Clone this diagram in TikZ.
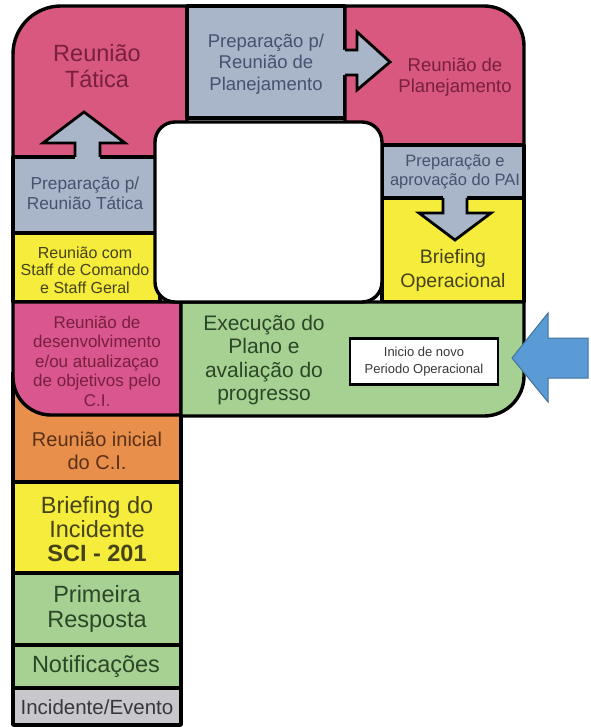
\documentclass[tikz,border=0pt]{standalone}
\usepackage{fontspec}
\setmainfont{Liberation Sans}
\definecolor{cpink}{HTML}{D8587F}
\definecolor{cpinkb}{HTML}{D9568E}
\definecolor{cgray}{HTML}{A9B5C9}
\definecolor{cyellow}{HTML}{F5EC3C}
\definecolor{cgreen}{HTML}{A6D192}
\definecolor{corange}{HTML}{E8904B}
\definecolor{clgray}{HTML}{C8C8CC}
\definecolor{cblue}{HTML}{5B9BD5}
\definecolor{cblueb}{HTML}{41719C}
\definecolor{tpink}{HTML}{78203E}
\definecolor{tgray}{HTML}{46526E}
\definecolor{tyellow}{HTML}{45431A}
\definecolor{tgreen}{HTML}{2C4628}
\definecolor{torange}{HTML}{5A3018}
\definecolor{tlgray}{HTML}{38383C}
\newcommand{\fsz}[2]{\fontsize{#1}{#2}\selectfont}
\begin{document}
\begin{tikzpicture}[x=1pt,y=-1pt,
  cell/.style={draw=black,line width=3.4pt,line join=round},
  lbl/.style={align=center,inner sep=0pt},
  arr/.style={draw=black,line width=2.8pt,line join=miter}]
\useasboundingbox (0,0) rectangle (590,727);
% ring cells
\path[cell,fill=cpink] (13,157) -- (13,54) arc[start angle=180,end angle=270,radius=48] -- (187,6) -- (187,157) -- cycle;
\path[cell,fill=cgray] (187,6) rectangle (345,118);
\path[cell,fill=cpink] (345,6) -- (484,6) arc[start angle=270,end angle=360,radius=40] -- (524,145) -- (345,145) -- cycle;
\path[cell,fill=cgray] (382,145) rectangle (524,198);
\path[cell,fill=cyellow] (382,198) rectangle (524,302);
\path[cell,fill=cgray] (13,157) rectangle (160,233);
\path[cell,fill=cyellow] (13,233) rectangle (160,302);
% left column
\fill[corange] (13,372) rectangle (181,482);
\draw[cell] (13,372) -- (13,482) -- (181,482) -- (181,415);
\path[cell,fill=cpinkb] (13,302) -- (181,302) -- (181,415) -- (51,415) arc[start angle=90,end angle=180,radius=38] -- cycle;
\path[cell,fill=cgreen] (181,302) -- (524,302) -- (524,376) arc[start angle=0,end angle=90,radius=40] -- (181,416) -- cycle;
\path[cell,fill=cyellow] (13,482) rectangle (181,573);
\path[cell,fill=cgreen] (13,573) rectangle (181,645);
\path[cell,fill=cgreen] (13,645) rectangle (181,688);
\path[cell,fill=clgray] (13,688) rectangle (181,725);
% gray arrows
\fill[cgray] (75,160) -- (75,143) -- (43,143) -- (84,112) -- (125,143) -- (100,143) -- (100,160) -- cycle;
\draw[arr] (75,157) -- (75,143) -- (43,143) -- (84,112) -- (125,143) -- (100,143) -- (100,157);
\fill[cgray] (342,50) -- (357,50) -- (357,32) -- (390,62) -- (357,90) -- (357,75) -- (342,75) -- cycle;
\draw[arr] (345,50) -- (357,50) -- (357,32) -- (390,62) -- (357,90) -- (357,75) -- (345,75);
\fill[cgray] (443,195) -- (443,213) -- (419,213) -- (455,240) -- (491,213) -- (467,213) -- (467,195) -- cycle;
\draw[arr] (443,198) -- (443,213) -- (419,213) -- (455,240) -- (491,213) -- (467,213) -- (467,198);
% hole
\draw[line width=3.4pt,fill=white,rounded corners=20pt] (155,122) rectangle (382,302);
% start box
\node[draw=black,line width=2.8pt,fill=white,minimum width=148pt,minimum height=46pt,inner sep=0pt] (box) at (424,361.5) {};
\node[lbl,text=tlgray,font=\fsz{13}{17}] (boxt) at (box.center) {Inicio de novo\\Periodo Operacional};
% blue arrow
\path[draw=cblueb,line width=1pt,fill=cblue] (512,358) -- (548,313) -- (548,338) -- (588,338) -- (588,378) -- (548,378) -- (548,402) -- cycle;
% labels
\node[lbl,text=tpink,font=\fsz{23.5}{26}] (rt) at (97,66) {Reunião\\Tática};
\node[lbl,text=tgray,font=\fsz{18.5}{21.5}] (gp) at (266,64) {Preparação p/\\Reunião de\\Planejamento};
\node[lbl,text=tpink,font=\fsz{18.5}{21}] (rp) at (455,77) {Reunião de\\Planejamento};
\node[lbl,text=tgray,font=\fsz{16.5}{19}] (pai) at (455,172) {Preparação e\\aprovação do PAI};
\node[lbl,text=tyellow,font=\fsz{19.5}{24}] (bo) at (453,270) {Briefing\\Operacional};
\node[lbl,text=tgray,font=\fsz{17.3}{20}] (prt) at (85,193) {Preparação p/\\Reunião Tática};
\node[lbl,text=tyellow,font=\fsz{16}{17.5}] (rs) at (85,270) {Reunião com\\Staff de Comando\\e Staff Geral};
\node[lbl,text=tpink,font=\fsz{17}{19.5}] (rd) at (97,361) {Reunião de\\desenvolvimento\\e/ou atualizaçao\\de objetivos pelo\\C.I.};
\node[lbl,text=tgreen,font=\fsz{21}{23.5}] (ex) at (264,360) {Execução do\\Plano e\\avaliação do\\progresso};
\node[lbl,text=torange,font=\fsz{20}{23}] (ri) at (97,451) {Reunião inicial\\do C.I.};
\node[lbl,text=tyellow,font=\fsz{23.5}{24}] (bi) at (97,529) {Briefing do\\Incidente\\\textbf{SCI - 201}};
\node[lbl,text=tgreen,font=\fsz{23.5}{25}] (pr) at (97,609) {Primeira\\Resposta};
\node[lbl,text=tgreen,font=\fsz{23.5}{25}] (no) at (96,666) {Notificações};
\node[lbl,text=tlgray,font=\fsz{20.5}{22}] (ie) at (97,707) {Incidente/Evento};
\end{tikzpicture}
\end{document}
